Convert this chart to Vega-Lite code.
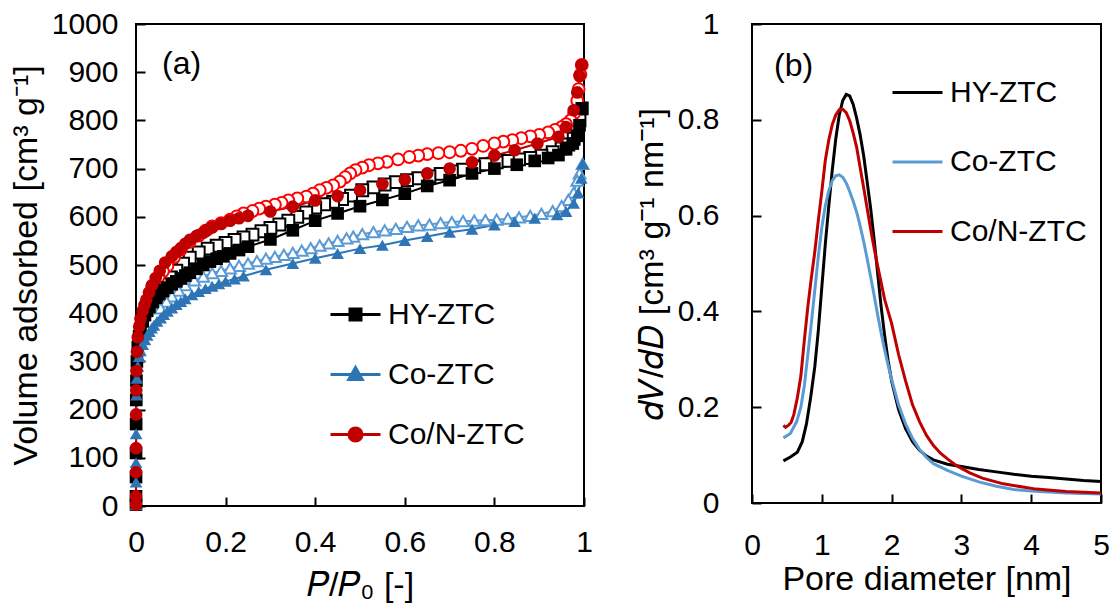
{
  "$schema": "https://vega.github.io/schema/vega-lite/v6.json",
  "background": "white",
  "padding": {"left": 8, "top": 8, "right": 5, "bottom": 5},
  "spacing": 40,
  "resolve": {"scale": {"color": "independent", "stroke": "independent", "shape": "independent"}, "legend": {"color": "independent"}},
  "config": {
    "font": "Liberation Sans",
    "view": {"stroke": "#000000", "strokeWidth": 2},
    "axis": {
      "grid": false, "domain": false, "ticks": true,
      "tickColor": "#000000", "tickWidth": 2, "tickSize": -9,
      "labelFont": "Liberation Sans", "labelFontSize": 30, "labelColor": "#000000",
      "labelOverlap": false, "labelFlush": false,
      "titleFont": "Liberation Sans", "titleFontSize": 34, "titleFontWeight": "normal", "titleColor": "#000000"
    },
    "legend": {"labelFont": "Liberation Sans", "labelFontSize": 30, "labelColor": "#000000", "padding": 0}
  },
  "datasets": {
    "iso": [
      {"sample":"HY-ZTC","branch":"ads","P":0.000001,"V":3},{"sample":"HY-ZTC","branch":"ads","P":0.00001,"V":20},{"sample":"HY-ZTC","branch":"ads","P":0.00005,"V":60},{"sample":"HY-ZTC","branch":"ads","P":0.0001,"V":110},{"sample":"HY-ZTC","branch":"ads","P":0.0003,"V":170},{"sample":"HY-ZTC","branch":"ads","P":0.0006,"V":220},{"sample":"HY-ZTC","branch":"ads","P":0.001,"V":260},{"sample":"HY-ZTC","branch":"ads","P":0.002,"V":300},{"sample":"HY-ZTC","branch":"ads","P":0.004,"V":330},{"sample":"HY-ZTC","branch":"ads","P":0.007,"V":352},{"sample":"HY-ZTC","branch":"ads","P":0.01,"V":368},{"sample":"HY-ZTC","branch":"ads","P":0.015,"V":383},{"sample":"HY-ZTC","branch":"ads","P":0.02,"V":396},{"sample":"HY-ZTC","branch":"ads","P":0.025,"V":405},{"sample":"HY-ZTC","branch":"ads","P":0.03,"V":413},{"sample":"HY-ZTC","branch":"ads","P":0.037,"V":423},{"sample":"HY-ZTC","branch":"ads","P":0.045,"V":432},{"sample":"HY-ZTC","branch":"ads","P":0.052,"V":440},{"sample":"HY-ZTC","branch":"ads","P":0.06,"V":446},{"sample":"HY-ZTC","branch":"ads","P":0.07,"V":453},{"sample":"HY-ZTC","branch":"ads","P":0.08,"V":460},{"sample":"HY-ZTC","branch":"ads","P":0.09,"V":466},{"sample":"HY-ZTC","branch":"ads","P":0.1,"V":472},{"sample":"HY-ZTC","branch":"ads","P":0.11,"V":478},{"sample":"HY-ZTC","branch":"ads","P":0.12,"V":484},{"sample":"HY-ZTC","branch":"ads","P":0.135,"V":492},{"sample":"HY-ZTC","branch":"ads","P":0.15,"V":500},{"sample":"HY-ZTC","branch":"ads","P":0.165,"V":507},{"sample":"HY-ZTC","branch":"ads","P":0.18,"V":513},{"sample":"HY-ZTC","branch":"ads","P":0.195,"V":518},{"sample":"HY-ZTC","branch":"ads","P":0.21,"V":524},{"sample":"HY-ZTC","branch":"ads","P":0.23,"V":531},{"sample":"HY-ZTC","branch":"ads","P":0.25,"V":538},{"sample":"HY-ZTC","branch":"ads","P":0.3,"V":553},{"sample":"HY-ZTC","branch":"ads","P":0.35,"V":572},{"sample":"HY-ZTC","branch":"ads","P":0.4,"V":592},{"sample":"HY-ZTC","branch":"ads","P":0.45,"V":607},{"sample":"HY-ZTC","branch":"ads","P":0.5,"V":622},{"sample":"HY-ZTC","branch":"ads","P":0.55,"V":635},{"sample":"HY-ZTC","branch":"ads","P":0.6,"V":648},{"sample":"HY-ZTC","branch":"ads","P":0.65,"V":664},{"sample":"HY-ZTC","branch":"ads","P":0.7,"V":676},{"sample":"HY-ZTC","branch":"ads","P":0.75,"V":690},{"sample":"HY-ZTC","branch":"ads","P":0.8,"V":700},{"sample":"HY-ZTC","branch":"ads","P":0.85,"V":708},{"sample":"HY-ZTC","branch":"ads","P":0.89,"V":716},{"sample":"HY-ZTC","branch":"ads","P":0.92,"V":722},{"sample":"HY-ZTC","branch":"ads","P":0.943,"V":728},{"sample":"HY-ZTC","branch":"ads","P":0.96,"V":740},{"sample":"HY-ZTC","branch":"ads","P":0.975,"V":752},{"sample":"HY-ZTC","branch":"ads","P":0.985,"V":768},{"sample":"HY-ZTC","branch":"ads","P":0.99,"V":790},{"sample":"HY-ZTC","branch":"ads","P":0.995,"V":825},
      {"sample":"HY-ZTC","branch":"des","P":0.995,"V":825},{"sample":"HY-ZTC","branch":"des","P":0.99,"V":800},{"sample":"HY-ZTC","branch":"des","P":0.985,"V":780},{"sample":"HY-ZTC","branch":"des","P":0.977,"V":762},{"sample":"HY-ZTC","branch":"des","P":0.965,"V":750},{"sample":"HY-ZTC","branch":"des","P":0.95,"V":742},{"sample":"HY-ZTC","branch":"des","P":0.93,"V":734},{"sample":"HY-ZTC","branch":"des","P":0.905,"V":727},{"sample":"HY-ZTC","branch":"des","P":0.88,"V":722},{"sample":"HY-ZTC","branch":"des","P":0.855,"V":719},{"sample":"HY-ZTC","branch":"des","P":0.83,"V":716},{"sample":"HY-ZTC","branch":"des","P":0.805,"V":713},{"sample":"HY-ZTC","branch":"des","P":0.78,"V":709},{"sample":"HY-ZTC","branch":"des","P":0.755,"V":703},{"sample":"HY-ZTC","branch":"des","P":0.73,"V":698},{"sample":"HY-ZTC","branch":"des","P":0.705,"V":694},{"sample":"HY-ZTC","branch":"des","P":0.68,"V":689},{"sample":"HY-ZTC","branch":"des","P":0.655,"V":684},{"sample":"HY-ZTC","branch":"des","P":0.63,"V":680},{"sample":"HY-ZTC","branch":"des","P":0.605,"V":676},{"sample":"HY-ZTC","branch":"des","P":0.58,"V":672},{"sample":"HY-ZTC","branch":"des","P":0.555,"V":667},{"sample":"HY-ZTC","branch":"des","P":0.53,"V":661},{"sample":"HY-ZTC","branch":"des","P":0.505,"V":655},{"sample":"HY-ZTC","branch":"des","P":0.48,"V":644},{"sample":"HY-ZTC","branch":"des","P":0.46,"V":637},{"sample":"HY-ZTC","branch":"des","P":0.44,"V":631},{"sample":"HY-ZTC","branch":"des","P":0.42,"V":626},{"sample":"HY-ZTC","branch":"des","P":0.4,"V":619},{"sample":"HY-ZTC","branch":"des","P":0.38,"V":609},{"sample":"HY-ZTC","branch":"des","P":0.36,"V":600},{"sample":"HY-ZTC","branch":"des","P":0.34,"V":592},{"sample":"HY-ZTC","branch":"des","P":0.32,"V":584},{"sample":"HY-ZTC","branch":"des","P":0.3,"V":577},{"sample":"HY-ZTC","branch":"des","P":0.28,"V":570},{"sample":"HY-ZTC","branch":"des","P":0.26,"V":563},{"sample":"HY-ZTC","branch":"des","P":0.24,"V":557},{"sample":"HY-ZTC","branch":"des","P":0.22,"V":552},{"sample":"HY-ZTC","branch":"des","P":0.2,"V":546},{"sample":"HY-ZTC","branch":"des","P":0.18,"V":540},{"sample":"HY-ZTC","branch":"des","P":0.16,"V":534},{"sample":"HY-ZTC","branch":"des","P":0.14,"V":526},{"sample":"HY-ZTC","branch":"des","P":0.12,"V":515},{"sample":"HY-ZTC","branch":"des","P":0.105,"V":503},{"sample":"HY-ZTC","branch":"des","P":0.09,"V":488},{"sample":"HY-ZTC","branch":"des","P":0.078,"V":474},{"sample":"HY-ZTC","branch":"des","P":0.066,"V":460},{"sample":"HY-ZTC","branch":"des","P":0.055,"V":447},{"sample":"HY-ZTC","branch":"des","P":0.045,"V":434},
      {"sample":"Co-ZTC","branch":"ads","P":0.000001,"V":3},{"sample":"Co-ZTC","branch":"ads","P":0.00001,"V":15},{"sample":"Co-ZTC","branch":"ads","P":0.00005,"V":50},{"sample":"Co-ZTC","branch":"ads","P":0.0001,"V":90},{"sample":"Co-ZTC","branch":"ads","P":0.0003,"V":150},{"sample":"Co-ZTC","branch":"ads","P":0.0006,"V":195},{"sample":"Co-ZTC","branch":"ads","P":0.001,"V":230},{"sample":"Co-ZTC","branch":"ads","P":0.002,"V":265},{"sample":"Co-ZTC","branch":"ads","P":0.004,"V":290},{"sample":"Co-ZTC","branch":"ads","P":0.007,"V":310},{"sample":"Co-ZTC","branch":"ads","P":0.01,"V":322},{"sample":"Co-ZTC","branch":"ads","P":0.015,"V":335},{"sample":"Co-ZTC","branch":"ads","P":0.02,"V":345},{"sample":"Co-ZTC","branch":"ads","P":0.025,"V":354},{"sample":"Co-ZTC","branch":"ads","P":0.03,"V":362},{"sample":"Co-ZTC","branch":"ads","P":0.035,"V":369},{"sample":"Co-ZTC","branch":"ads","P":0.04,"V":375},{"sample":"Co-ZTC","branch":"ads","P":0.047,"V":383},{"sample":"Co-ZTC","branch":"ads","P":0.055,"V":390},{"sample":"Co-ZTC","branch":"ads","P":0.062,"V":397},{"sample":"Co-ZTC","branch":"ads","P":0.07,"V":404},{"sample":"Co-ZTC","branch":"ads","P":0.08,"V":411},{"sample":"Co-ZTC","branch":"ads","P":0.09,"V":418},{"sample":"Co-ZTC","branch":"ads","P":0.1,"V":424},{"sample":"Co-ZTC","branch":"ads","P":0.11,"V":430},{"sample":"Co-ZTC","branch":"ads","P":0.125,"V":438},{"sample":"Co-ZTC","branch":"ads","P":0.14,"V":445},{"sample":"Co-ZTC","branch":"ads","P":0.155,"V":451},{"sample":"Co-ZTC","branch":"ads","P":0.17,"V":456},{"sample":"Co-ZTC","branch":"ads","P":0.185,"V":461},{"sample":"Co-ZTC","branch":"ads","P":0.2,"V":466},{"sample":"Co-ZTC","branch":"ads","P":0.22,"V":471},{"sample":"Co-ZTC","branch":"ads","P":0.24,"V":477},{"sample":"Co-ZTC","branch":"ads","P":0.29,"V":490},{"sample":"Co-ZTC","branch":"ads","P":0.35,"V":503},{"sample":"Co-ZTC","branch":"ads","P":0.4,"V":514},{"sample":"Co-ZTC","branch":"ads","P":0.45,"V":524},{"sample":"Co-ZTC","branch":"ads","P":0.5,"V":534},{"sample":"Co-ZTC","branch":"ads","P":0.55,"V":541},{"sample":"Co-ZTC","branch":"ads","P":0.6,"V":551},{"sample":"Co-ZTC","branch":"ads","P":0.65,"V":559},{"sample":"Co-ZTC","branch":"ads","P":0.7,"V":568},{"sample":"Co-ZTC","branch":"ads","P":0.75,"V":574},{"sample":"Co-ZTC","branch":"ads","P":0.8,"V":583},{"sample":"Co-ZTC","branch":"ads","P":0.845,"V":590},{"sample":"Co-ZTC","branch":"ads","P":0.89,"V":597},{"sample":"Co-ZTC","branch":"ads","P":0.94,"V":604},{"sample":"Co-ZTC","branch":"ads","P":0.96,"V":611},{"sample":"Co-ZTC","branch":"ads","P":0.977,"V":628},{"sample":"Co-ZTC","branch":"ads","P":0.987,"V":650},{"sample":"Co-ZTC","branch":"ads","P":0.994,"V":680},{"sample":"Co-ZTC","branch":"ads","P":0.997,"V":710},
      {"sample":"Co-ZTC","branch":"des","P":0.997,"V":710},{"sample":"Co-ZTC","branch":"des","P":0.99,"V":690},{"sample":"Co-ZTC","branch":"des","P":0.985,"V":675},{"sample":"Co-ZTC","branch":"des","P":0.977,"V":650},{"sample":"Co-ZTC","branch":"des","P":0.965,"V":635},{"sample":"Co-ZTC","branch":"des","P":0.95,"V":622},{"sample":"Co-ZTC","branch":"des","P":0.93,"V":612},{"sample":"Co-ZTC","branch":"des","P":0.905,"V":606},{"sample":"Co-ZTC","branch":"des","P":0.88,"V":602},{"sample":"Co-ZTC","branch":"des","P":0.855,"V":599},{"sample":"Co-ZTC","branch":"des","P":0.83,"V":596},{"sample":"Co-ZTC","branch":"des","P":0.805,"V":594},{"sample":"Co-ZTC","branch":"des","P":0.78,"V":593},{"sample":"Co-ZTC","branch":"des","P":0.755,"V":592},{"sample":"Co-ZTC","branch":"des","P":0.73,"V":591},{"sample":"Co-ZTC","branch":"des","P":0.705,"V":589},{"sample":"Co-ZTC","branch":"des","P":0.68,"V":587},{"sample":"Co-ZTC","branch":"des","P":0.655,"V":584},{"sample":"Co-ZTC","branch":"des","P":0.63,"V":582},{"sample":"Co-ZTC","branch":"des","P":0.605,"V":579},{"sample":"Co-ZTC","branch":"des","P":0.58,"V":575},{"sample":"Co-ZTC","branch":"des","P":0.555,"V":572},{"sample":"Co-ZTC","branch":"des","P":0.53,"V":568},{"sample":"Co-ZTC","branch":"des","P":0.505,"V":564},{"sample":"Co-ZTC","branch":"des","P":0.485,"V":559},{"sample":"Co-ZTC","branch":"des","P":0.47,"V":555},{"sample":"Co-ZTC","branch":"des","P":0.45,"V":550},{"sample":"Co-ZTC","branch":"des","P":0.43,"V":545},{"sample":"Co-ZTC","branch":"des","P":0.41,"V":540},{"sample":"Co-ZTC","branch":"des","P":0.39,"V":535},{"sample":"Co-ZTC","branch":"des","P":0.37,"V":530},{"sample":"Co-ZTC","branch":"des","P":0.35,"V":525},{"sample":"Co-ZTC","branch":"des","P":0.33,"V":521},{"sample":"Co-ZTC","branch":"des","P":0.31,"V":517},{"sample":"Co-ZTC","branch":"des","P":0.29,"V":513},{"sample":"Co-ZTC","branch":"des","P":0.27,"V":508},{"sample":"Co-ZTC","branch":"des","P":0.25,"V":503},{"sample":"Co-ZTC","branch":"des","P":0.23,"V":498},{"sample":"Co-ZTC","branch":"des","P":0.21,"V":493},{"sample":"Co-ZTC","branch":"des","P":0.19,"V":488},{"sample":"Co-ZTC","branch":"des","P":0.17,"V":483},{"sample":"Co-ZTC","branch":"des","P":0.15,"V":476},{"sample":"Co-ZTC","branch":"des","P":0.13,"V":468},{"sample":"Co-ZTC","branch":"des","P":0.11,"V":458},{"sample":"Co-ZTC","branch":"des","P":0.095,"V":447},{"sample":"Co-ZTC","branch":"des","P":0.08,"V":435},{"sample":"Co-ZTC","branch":"des","P":0.068,"V":424},{"sample":"Co-ZTC","branch":"des","P":0.055,"V":410},
      {"sample":"Co/N-ZTC","branch":"ads","P":0.000001,"V":3},{"sample":"Co/N-ZTC","branch":"ads","P":0.00001,"V":20},{"sample":"Co/N-ZTC","branch":"ads","P":0.00005,"V":70},{"sample":"Co/N-ZTC","branch":"ads","P":0.0001,"V":120},{"sample":"Co/N-ZTC","branch":"ads","P":0.0003,"V":190},{"sample":"Co/N-ZTC","branch":"ads","P":0.0006,"V":240},{"sample":"Co/N-ZTC","branch":"ads","P":0.001,"V":280},{"sample":"Co/N-ZTC","branch":"ads","P":0.002,"V":320},{"sample":"Co/N-ZTC","branch":"ads","P":0.004,"V":350},{"sample":"Co/N-ZTC","branch":"ads","P":0.007,"V":372},{"sample":"Co/N-ZTC","branch":"ads","P":0.01,"V":388},{"sample":"Co/N-ZTC","branch":"ads","P":0.015,"V":405},{"sample":"Co/N-ZTC","branch":"ads","P":0.019,"V":417},{"sample":"Co/N-ZTC","branch":"ads","P":0.023,"V":428},{"sample":"Co/N-ZTC","branch":"ads","P":0.029,"V":443},{"sample":"Co/N-ZTC","branch":"ads","P":0.036,"V":458},{"sample":"Co/N-ZTC","branch":"ads","P":0.044,"V":473},{"sample":"Co/N-ZTC","branch":"ads","P":0.053,"V":488},{"sample":"Co/N-ZTC","branch":"ads","P":0.065,"V":505},{"sample":"Co/N-ZTC","branch":"ads","P":0.08,"V":518},{"sample":"Co/N-ZTC","branch":"ads","P":0.09,"V":527},{"sample":"Co/N-ZTC","branch":"ads","P":0.1,"V":535},{"sample":"Co/N-ZTC","branch":"ads","P":0.11,"V":544},{"sample":"Co/N-ZTC","branch":"ads","P":0.12,"V":552},{"sample":"Co/N-ZTC","branch":"ads","P":0.135,"V":560},{"sample":"Co/N-ZTC","branch":"ads","P":0.15,"V":567},{"sample":"Co/N-ZTC","branch":"ads","P":0.16,"V":573},{"sample":"Co/N-ZTC","branch":"ads","P":0.17,"V":578},{"sample":"Co/N-ZTC","branch":"ads","P":0.19,"V":585},{"sample":"Co/N-ZTC","branch":"ads","P":0.21,"V":592},{"sample":"Co/N-ZTC","branch":"ads","P":0.23,"V":597},{"sample":"Co/N-ZTC","branch":"ads","P":0.25,"V":602},{"sample":"Co/N-ZTC","branch":"ads","P":0.3,"V":611},{"sample":"Co/N-ZTC","branch":"ads","P":0.35,"V":621},{"sample":"Co/N-ZTC","branch":"ads","P":0.4,"V":634},{"sample":"Co/N-ZTC","branch":"ads","P":0.45,"V":643},{"sample":"Co/N-ZTC","branch":"ads","P":0.5,"V":655},{"sample":"Co/N-ZTC","branch":"ads","P":0.55,"V":668},{"sample":"Co/N-ZTC","branch":"ads","P":0.6,"V":677},{"sample":"Co/N-ZTC","branch":"ads","P":0.65,"V":690},{"sample":"Co/N-ZTC","branch":"ads","P":0.7,"V":700},{"sample":"Co/N-ZTC","branch":"ads","P":0.75,"V":713},{"sample":"Co/N-ZTC","branch":"ads","P":0.8,"V":727},{"sample":"Co/N-ZTC","branch":"ads","P":0.845,"V":738},{"sample":"Co/N-ZTC","branch":"ads","P":0.896,"V":752},{"sample":"Co/N-ZTC","branch":"ads","P":0.943,"V":766},{"sample":"Co/N-ZTC","branch":"ads","P":0.96,"V":786},{"sample":"Co/N-ZTC","branch":"ads","P":0.977,"V":821},{"sample":"Co/N-ZTC","branch":"ads","P":0.985,"V":858},{"sample":"Co/N-ZTC","branch":"ads","P":0.99,"V":892},{"sample":"Co/N-ZTC","branch":"ads","P":0.995,"V":915},
      {"sample":"Co/N-ZTC","branch":"des","P":0.995,"V":915},{"sample":"Co/N-ZTC","branch":"des","P":0.992,"V":895},{"sample":"Co/N-ZTC","branch":"des","P":0.988,"V":865},{"sample":"Co/N-ZTC","branch":"des","P":0.985,"V":841},{"sample":"Co/N-ZTC","branch":"des","P":0.978,"V":815},{"sample":"Co/N-ZTC","branch":"des","P":0.97,"V":800},{"sample":"Co/N-ZTC","branch":"des","P":0.96,"V":792},{"sample":"Co/N-ZTC","branch":"des","P":0.95,"V":786},{"sample":"Co/N-ZTC","branch":"des","P":0.935,"V":780},{"sample":"Co/N-ZTC","branch":"des","P":0.92,"V":775},{"sample":"Co/N-ZTC","branch":"des","P":0.9,"V":770},{"sample":"Co/N-ZTC","branch":"des","P":0.88,"V":767},{"sample":"Co/N-ZTC","branch":"des","P":0.86,"V":763},{"sample":"Co/N-ZTC","branch":"des","P":0.84,"V":759},{"sample":"Co/N-ZTC","branch":"des","P":0.82,"V":756},{"sample":"Co/N-ZTC","branch":"des","P":0.8,"V":752},{"sample":"Co/N-ZTC","branch":"des","P":0.775,"V":747},{"sample":"Co/N-ZTC","branch":"des","P":0.75,"V":741},{"sample":"Co/N-ZTC","branch":"des","P":0.725,"V":737},{"sample":"Co/N-ZTC","branch":"des","P":0.7,"V":734},{"sample":"Co/N-ZTC","branch":"des","P":0.675,"V":732},{"sample":"Co/N-ZTC","branch":"des","P":0.65,"V":730},{"sample":"Co/N-ZTC","branch":"des","P":0.63,"V":727},{"sample":"Co/N-ZTC","branch":"des","P":0.61,"V":724},{"sample":"Co/N-ZTC","branch":"des","P":0.585,"V":719},{"sample":"Co/N-ZTC","branch":"des","P":0.56,"V":714},{"sample":"Co/N-ZTC","branch":"des","P":0.54,"V":711},{"sample":"Co/N-ZTC","branch":"des","P":0.52,"V":707},{"sample":"Co/N-ZTC","branch":"des","P":0.505,"V":702},{"sample":"Co/N-ZTC","branch":"des","P":0.49,"V":697},{"sample":"Co/N-ZTC","branch":"des","P":0.478,"V":690},{"sample":"Co/N-ZTC","branch":"des","P":0.467,"V":682},{"sample":"Co/N-ZTC","branch":"des","P":0.455,"V":673},{"sample":"Co/N-ZTC","branch":"des","P":0.44,"V":665},{"sample":"Co/N-ZTC","branch":"des","P":0.425,"V":660},{"sample":"Co/N-ZTC","branch":"des","P":0.41,"V":655},{"sample":"Co/N-ZTC","branch":"des","P":0.395,"V":648},{"sample":"Co/N-ZTC","branch":"des","P":0.38,"V":642},{"sample":"Co/N-ZTC","branch":"des","P":0.36,"V":638},{"sample":"Co/N-ZTC","branch":"des","P":0.34,"V":634},{"sample":"Co/N-ZTC","branch":"des","P":0.325,"V":629},{"sample":"Co/N-ZTC","branch":"des","P":0.31,"V":625},{"sample":"Co/N-ZTC","branch":"des","P":0.29,"V":621},{"sample":"Co/N-ZTC","branch":"des","P":0.275,"V":617},{"sample":"Co/N-ZTC","branch":"des","P":0.26,"V":612},{"sample":"Co/N-ZTC","branch":"des","P":0.24,"V":607},{"sample":"Co/N-ZTC","branch":"des","P":0.225,"V":601},{"sample":"Co/N-ZTC","branch":"des","P":0.21,"V":594},{"sample":"Co/N-ZTC","branch":"des","P":0.19,"V":587},{"sample":"Co/N-ZTC","branch":"des","P":0.17,"V":580},{"sample":"Co/N-ZTC","branch":"des","P":0.155,"V":571},{"sample":"Co/N-ZTC","branch":"des","P":0.14,"V":561},{"sample":"Co/N-ZTC","branch":"des","P":0.12,"V":548},{"sample":"Co/N-ZTC","branch":"des","P":0.1,"V":532},{"sample":"Co/N-ZTC","branch":"des","P":0.085,"V":516},{"sample":"Co/N-ZTC","branch":"des","P":0.07,"V":498},{"sample":"Co/N-ZTC","branch":"des","P":0.06,"V":487},{"sample":"Co/N-ZTC","branch":"des","P":0.05,"V":475},{"sample":"Co/N-ZTC","branch":"des","P":0.036,"V":456}
    ],
    "psd": [
      {"sample":"HY-ZTC","D":0.45,"dVdD":0.088},{"sample":"HY-ZTC","D":0.55,"dVdD":0.096},{"sample":"HY-ZTC","D":0.65,"dVdD":0.106},{"sample":"HY-ZTC","D":0.72,"dVdD":0.128},{"sample":"HY-ZTC","D":0.78,"dVdD":0.165},{"sample":"HY-ZTC","D":0.84,"dVdD":0.22},{"sample":"HY-ZTC","D":0.9,"dVdD":0.285},{"sample":"HY-ZTC","D":0.95,"dVdD":0.36},{"sample":"HY-ZTC","D":1.0,"dVdD":0.45},{"sample":"HY-ZTC","D":1.05,"dVdD":0.54},{"sample":"HY-ZTC","D":1.1,"dVdD":0.62},{"sample":"HY-ZTC","D":1.15,"dVdD":0.695},{"sample":"HY-ZTC","D":1.2,"dVdD":0.76},{"sample":"HY-ZTC","D":1.25,"dVdD":0.81},{"sample":"HY-ZTC","D":1.3,"dVdD":0.84},{"sample":"HY-ZTC","D":1.35,"dVdD":0.853},{"sample":"HY-ZTC","D":1.4,"dVdD":0.85},{"sample":"HY-ZTC","D":1.45,"dVdD":0.832},{"sample":"HY-ZTC","D":1.5,"dVdD":0.803},{"sample":"HY-ZTC","D":1.55,"dVdD":0.768},{"sample":"HY-ZTC","D":1.6,"dVdD":0.725},{"sample":"HY-ZTC","D":1.65,"dVdD":0.67},{"sample":"HY-ZTC","D":1.7,"dVdD":0.615},{"sample":"HY-ZTC","D":1.75,"dVdD":0.55},{"sample":"HY-ZTC","D":1.8,"dVdD":0.48},{"sample":"HY-ZTC","D":1.85,"dVdD":0.41},{"sample":"HY-ZTC","D":1.9,"dVdD":0.35},{"sample":"HY-ZTC","D":1.95,"dVdD":0.297},{"sample":"HY-ZTC","D":2.0,"dVdD":0.255},{"sample":"HY-ZTC","D":2.1,"dVdD":0.195},{"sample":"HY-ZTC","D":2.2,"dVdD":0.155},{"sample":"HY-ZTC","D":2.3,"dVdD":0.128},{"sample":"HY-ZTC","D":2.4,"dVdD":0.11},{"sample":"HY-ZTC","D":2.5,"dVdD":0.098},{"sample":"HY-ZTC","D":2.6,"dVdD":0.09},{"sample":"HY-ZTC","D":2.8,"dVdD":0.081},{"sample":"HY-ZTC","D":3.0,"dVdD":0.076},{"sample":"HY-ZTC","D":3.25,"dVdD":0.07},{"sample":"HY-ZTC","D":3.5,"dVdD":0.065},{"sample":"HY-ZTC","D":3.75,"dVdD":0.06},{"sample":"HY-ZTC","D":4.0,"dVdD":0.056},{"sample":"HY-ZTC","D":4.25,"dVdD":0.053},{"sample":"HY-ZTC","D":4.5,"dVdD":0.05},{"sample":"HY-ZTC","D":4.75,"dVdD":0.047},{"sample":"HY-ZTC","D":5.0,"dVdD":0.045},
      {"sample":"Co-ZTC","D":0.45,"dVdD":0.136},{"sample":"Co-ZTC","D":0.55,"dVdD":0.145},{"sample":"Co-ZTC","D":0.64,"dVdD":0.17},{"sample":"Co-ZTC","D":0.7,"dVdD":0.2},{"sample":"Co-ZTC","D":0.75,"dVdD":0.245},{"sample":"Co-ZTC","D":0.8,"dVdD":0.31},{"sample":"Co-ZTC","D":0.85,"dVdD":0.375},{"sample":"Co-ZTC","D":0.9,"dVdD":0.445},{"sample":"Co-ZTC","D":0.95,"dVdD":0.515},{"sample":"Co-ZTC","D":1.0,"dVdD":0.575},{"sample":"Co-ZTC","D":1.05,"dVdD":0.62},{"sample":"Co-ZTC","D":1.1,"dVdD":0.652},{"sample":"Co-ZTC","D":1.15,"dVdD":0.673},{"sample":"Co-ZTC","D":1.2,"dVdD":0.683},{"sample":"Co-ZTC","D":1.25,"dVdD":0.685},{"sample":"Co-ZTC","D":1.3,"dVdD":0.68},{"sample":"Co-ZTC","D":1.35,"dVdD":0.668},{"sample":"Co-ZTC","D":1.4,"dVdD":0.65},{"sample":"Co-ZTC","D":1.45,"dVdD":0.63},{"sample":"Co-ZTC","D":1.5,"dVdD":0.607},{"sample":"Co-ZTC","D":1.55,"dVdD":0.578},{"sample":"Co-ZTC","D":1.6,"dVdD":0.546},{"sample":"Co-ZTC","D":1.65,"dVdD":0.51},{"sample":"Co-ZTC","D":1.7,"dVdD":0.472},{"sample":"Co-ZTC","D":1.75,"dVdD":0.433},{"sample":"Co-ZTC","D":1.8,"dVdD":0.393},{"sample":"Co-ZTC","D":1.85,"dVdD":0.355},{"sample":"Co-ZTC","D":1.9,"dVdD":0.32},{"sample":"Co-ZTC","D":1.95,"dVdD":0.288},{"sample":"Co-ZTC","D":2.0,"dVdD":0.258},{"sample":"Co-ZTC","D":2.1,"dVdD":0.205},{"sample":"Co-ZTC","D":2.2,"dVdD":0.165},{"sample":"Co-ZTC","D":2.3,"dVdD":0.135},{"sample":"Co-ZTC","D":2.4,"dVdD":0.112},{"sample":"Co-ZTC","D":2.5,"dVdD":0.095},{"sample":"Co-ZTC","D":2.6,"dVdD":0.082},{"sample":"Co-ZTC","D":2.8,"dVdD":0.068},{"sample":"Co-ZTC","D":3.0,"dVdD":0.056},{"sample":"Co-ZTC","D":3.25,"dVdD":0.044},{"sample":"Co-ZTC","D":3.5,"dVdD":0.035},{"sample":"Co-ZTC","D":3.75,"dVdD":0.028},{"sample":"Co-ZTC","D":4.0,"dVdD":0.025},{"sample":"Co-ZTC","D":4.5,"dVdD":0.021},{"sample":"Co-ZTC","D":5.0,"dVdD":0.019},
      {"sample":"Co/N-ZTC","D":0.45,"dVdD":0.162},{"sample":"Co/N-ZTC","D":0.48,"dVdD":0.158},{"sample":"Co/N-ZTC","D":0.52,"dVdD":0.162},{"sample":"Co/N-ZTC","D":0.56,"dVdD":0.168},{"sample":"Co/N-ZTC","D":0.6,"dVdD":0.185},{"sample":"Co/N-ZTC","D":0.65,"dVdD":0.22},{"sample":"Co/N-ZTC","D":0.7,"dVdD":0.265},{"sample":"Co/N-ZTC","D":0.75,"dVdD":0.34},{"sample":"Co/N-ZTC","D":0.8,"dVdD":0.41},{"sample":"Co/N-ZTC","D":0.85,"dVdD":0.47},{"sample":"Co/N-ZTC","D":0.9,"dVdD":0.525},{"sample":"Co/N-ZTC","D":0.95,"dVdD":0.59},{"sample":"Co/N-ZTC","D":1.0,"dVdD":0.65},{"sample":"Co/N-ZTC","D":1.05,"dVdD":0.715},{"sample":"Co/N-ZTC","D":1.1,"dVdD":0.758},{"sample":"Co/N-ZTC","D":1.15,"dVdD":0.79},{"sample":"Co/N-ZTC","D":1.2,"dVdD":0.81},{"sample":"Co/N-ZTC","D":1.25,"dVdD":0.821},{"sample":"Co/N-ZTC","D":1.3,"dVdD":0.822},{"sample":"Co/N-ZTC","D":1.35,"dVdD":0.815},{"sample":"Co/N-ZTC","D":1.4,"dVdD":0.798},{"sample":"Co/N-ZTC","D":1.45,"dVdD":0.772},{"sample":"Co/N-ZTC","D":1.5,"dVdD":0.742},{"sample":"Co/N-ZTC","D":1.55,"dVdD":0.70},{"sample":"Co/N-ZTC","D":1.6,"dVdD":0.658},{"sample":"Co/N-ZTC","D":1.65,"dVdD":0.615},{"sample":"Co/N-ZTC","D":1.7,"dVdD":0.572},{"sample":"Co/N-ZTC","D":1.75,"dVdD":0.532},{"sample":"Co/N-ZTC","D":1.8,"dVdD":0.495},{"sample":"Co/N-ZTC","D":1.85,"dVdD":0.46},{"sample":"Co/N-ZTC","D":1.9,"dVdD":0.425},{"sample":"Co/N-ZTC","D":1.95,"dVdD":0.4},{"sample":"Co/N-ZTC","D":2.0,"dVdD":0.375},{"sample":"Co/N-ZTC","D":2.1,"dVdD":0.31},{"sample":"Co/N-ZTC","D":2.2,"dVdD":0.255},{"sample":"Co/N-ZTC","D":2.3,"dVdD":0.205},{"sample":"Co/N-ZTC","D":2.4,"dVdD":0.17},{"sample":"Co/N-ZTC","D":2.5,"dVdD":0.141},{"sample":"Co/N-ZTC","D":2.6,"dVdD":0.12},{"sample":"Co/N-ZTC","D":2.7,"dVdD":0.104},{"sample":"Co/N-ZTC","D":2.8,"dVdD":0.092},{"sample":"Co/N-ZTC","D":2.93,"dVdD":0.078},{"sample":"Co/N-ZTC","D":3.12,"dVdD":0.063},{"sample":"Co/N-ZTC","D":3.3,"dVdD":0.052},{"sample":"Co/N-ZTC","D":3.6,"dVdD":0.04},{"sample":"Co/N-ZTC","D":4.07,"dVdD":0.029},{"sample":"Co/N-ZTC","D":4.5,"dVdD":0.024},{"sample":"Co/N-ZTC","D":5.0,"dVdD":0.021}
    ]
  },
  "hconcat": [
    {
      "width": 448,
      "height": 482,
      "data": {"name": "iso"},
      "title": {"text": "(a)", "anchor": "start", "frame": "group", "orient": "top", "dx": 26, "dy": 76, "fontSize": 32, "font": "Liberation Sans", "fontWeight": "normal", "color": "#000000"},
      "encoding": {
        "x": {"field": "P", "type": "quantitative", "scale": {"domain": [0, 1], "nice": false}, "axis": {"values": [0, 0.2, 0.4, 0.6, 0.8, 1], "format": "~g", "title": "𝑃/𝑃₀ [-]", "labelPadding": 30, "titlePadding": 11}},
        "y": {"field": "V", "type": "quantitative", "scale": {"domain": [0, 1000], "nice": false}, "axis": {"values": [0, 100, 200, 300, 400, 500, 600, 700, 800, 900, 1000], "format": "d", "title": "Volume adsorbed [cm³ g⁻¹]", "labelPadding": 27, "titlePadding": 8}}
      },
      "layer": [
        {
          "transform": [{"filter": "datum.branch === 'des'"}],
          "mark": {"type": "line", "strokeWidth": 2, "clip": false},
          "encoding": {
            "stroke": {"field": "sample", "type": "nominal", "scale": {"domain": ["HY-ZTC", "Co-ZTC", "Co/N-ZTC"], "range": ["#000000", "#5B9BD5", "#FF0000"]}, "legend": null}
          }
        },
        {
          "transform": [{"filter": "datum.branch === 'ads'"}],
          "mark": {"type": "line", "strokeWidth": 2, "clip": false},
          "encoding": {
            "stroke": {"field": "sample", "type": "nominal", "scale": {"domain": ["HY-ZTC", "Co-ZTC", "Co/N-ZTC"], "range": ["#000000", "#2E75B6", "#C00000"]}, "legend": null}
          }
        },
        {
          "transform": [{"filter": "datum.branch === 'des'"}],
          "mark": {"type": "point", "filled": true, "fill": "#ffffff", "strokeWidth": 2, "opacity": 1, "size": 140, "clip": false},
          "encoding": {
            "stroke": {"field": "sample", "type": "nominal", "scale": {"domain": ["HY-ZTC", "Co-ZTC", "Co/N-ZTC"], "range": ["#000000", "#5B9BD5", "#FF0000"]}, "legend": null},
            "shape": {"field": "sample", "type": "nominal", "scale": {"domain": ["HY-ZTC", "Co-ZTC", "Co/N-ZTC"], "range": ["square", "triangle-up", "circle"]}, "legend": null}
          }
        },
        {
          "transform": [{"filter": "datum.branch === 'ads'"}],
          "mark": {"type": "point", "filled": true, "opacity": 1, "size": 160, "clip": false},
          "encoding": {
            "color": {"field": "sample", "type": "nominal", "scale": {"domain": ["HY-ZTC", "Co-ZTC", "Co/N-ZTC"], "range": ["#000000", "#2E75B6", "#C00000"]}, "legend": null},
            "shape": {"field": "sample", "type": "nominal", "scale": {"domain": ["HY-ZTC", "Co-ZTC", "Co/N-ZTC"], "range": ["square", "triangle-up", "circle"]}, "legend": null}
          }
        },
        {
          "transform": [{"filter": "datum.branch === 'legend-only'"}],
          "mark": {"type": "point", "filled": true, "opacity": 1, "strokeWidth": 3},
          "encoding": {
            "color": {"field": "sample", "type": "nominal", "scale": {"domain": ["HY-ZTC", "Co-ZTC", "Co/N-ZTC"], "range": ["#000000", "#2E75B6", "#C00000"]},
              "legend": {"orient": "none", "legendX": 193, "legendY": 264, "title": null, "symbolSize": 2500, "symbolStrokeWidth": 3, "rowPadding": 18, "labelOffset": 6}},
            "stroke": {"field": "sample", "type": "nominal", "scale": {"domain": ["HY-ZTC", "Co-ZTC", "Co/N-ZTC"], "range": ["#000000", "#2E75B6", "#C00000"]},
              "legend": {"orient": "none", "legendX": 193, "legendY": 264, "title": null, "symbolSize": 2500, "symbolStrokeWidth": 3, "rowPadding": 18, "labelOffset": 6}},
            "shape": {"field": "sample", "type": "nominal", "scale": {"domain": ["HY-ZTC", "Co-ZTC", "Co/N-ZTC"], "range": ["M-1,0H1M-0.22,-0.22H0.22V0.22H-0.22Z", "M-1,0H1M0,-0.28L0.27,0.2H-0.27Z", "M-1,0H1M0.26,0A0.26,0.26,0,1,1,-0.26,0A0.26,0.26,0,1,1,0.26,0Z"]},
              "legend": {"orient": "none", "legendX": 193, "legendY": 264, "title": null, "symbolSize": 2500, "symbolStrokeWidth": 3, "rowPadding": 18, "labelOffset": 6}}
          }
        }
      ],
      "resolve": {"scale": {"stroke": "independent", "shape": "independent", "color": "independent"}}
    },
    {
      "width": 349,
      "height": 479,
      "data": {"name": "psd"},
      "title": {"text": "(b)", "anchor": "start", "frame": "group", "orient": "top", "dx": 22, "dy": 78, "fontSize": 32, "font": "Liberation Sans", "fontWeight": "normal", "color": "#000000"},
      "mark": {"type": "line", "strokeWidth": 3},
      "encoding": {
        "x": {"field": "D", "type": "quantitative", "scale": {"domain": [0, 5], "nice": false}, "axis": {"values": [0, 1, 2, 3, 4, 5], "title": "Pore diameter [nm]", "labelPadding": 36, "titlePadding": 2}},
        "y": {"field": "dVdD", "type": "quantitative", "scale": {"domain": [0, 1], "nice": false}, "axis": {"values": [0, 0.2, 0.4, 0.6, 0.8, 1], "format": "~g", "title": "𝑑𝑉/𝑑𝐷 [cm³ g⁻¹ nm⁻¹]", "labelPadding": 42, "titlePadding": 8}},
        "color": {"field": "sample", "type": "nominal", "scale": {"domain": ["HY-ZTC", "Co-ZTC", "Co/N-ZTC"], "range": ["#000000", "#5B9BD5", "#C00000"]},
          "legend": {"orient": "none", "legendX": 139, "legendY": 42, "title": null, "symbolType": "stroke", "symbolSize": 2500, "symbolStrokeWidth": 3, "rowPadding": 27.5, "labelOffset": 6}}
      }
    }
  ]
}
